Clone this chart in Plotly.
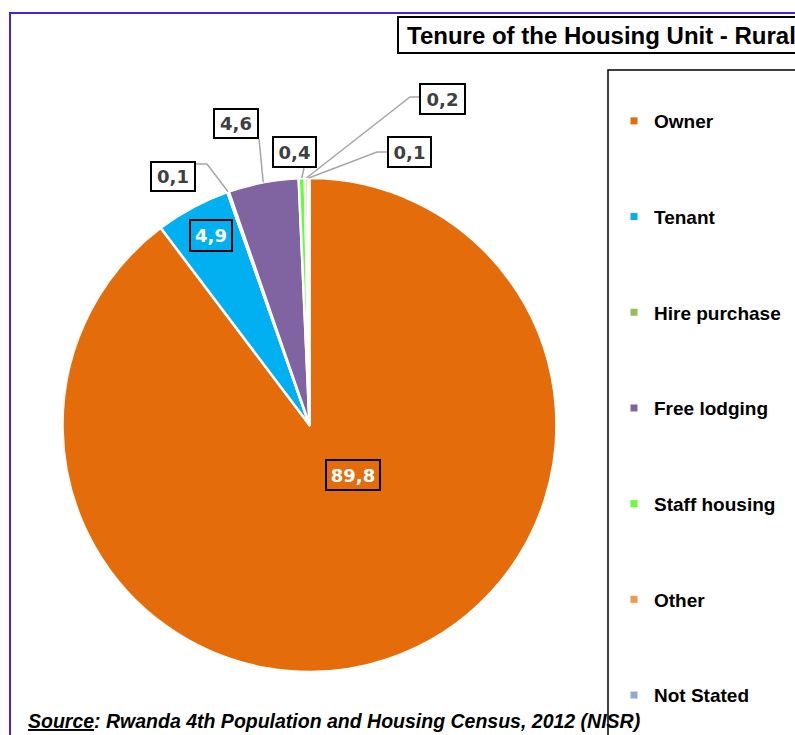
import math
import plotly.graph_objects as go

# ---------------- data ----------------
categories = ["Owner", "Tenant", "Hire purchase", "Free lodging",
              "Staff housing", "Other", "Not Stated"]
values = [89.8, 4.9, 0.1, 4.6, 0.4, 0.2, 0.1]
colors = ["#E46C0A", "#00B0F0", "#9BBB59", "#8064A2",
          "#66FF33", "#F79646", "#95A9D0"]
title_text = "Tenure of the Housing Unit - Rural"
source_text = "<i><u>Source</u>: Rwanda 4th Population and Housing Census, 2012 (NISR)</i>"

# ---------------- layout constants (pixels) ----------------
W, H = 795, 735
CX, CY, R = 309.5, 425.0, 247.0


def px(x):
    return x / W


def py(y):
    return 1 - y / H


# label boxes: centre, box size, text colour, leader waypoints (from box toward slice)
label_style = {
    "Owner":         dict(c=(353, 475), size=(56, 32), font="white", leader=None),
    "Tenant":        dict(c=(211, 235.5), size=(44, 33), font="white", leader=None),
    "Hire purchase": dict(c=(173, 176.5), size=(46, 31), font="#404040", leader=[(195, 164), (207, 164)]),
    "Free lodging":  dict(c=(235.5, 123.5), size=(46, 31), font="#404040", leader=[(259, 139)]),
    "Staff housing": dict(c=(294, 152), size=(45, 32), font="#404040", leader=[(304, 168)]),
    "Other":         dict(c=(442.5, 99), size=(47, 32), font="#404040", leader=[(419, 97), (410, 97)]),
    "Not Stated":    dict(c=(409.5, 152), size=(45, 32), font="#404040", leader=[(387, 152), (377, 152)]),
}

fig = go.Figure()

fig.add_trace(go.Pie(
    labels=categories, values=values, sort=False, direction="clockwise",
    rotation=0, textinfo="none", hoverinfo="label+value",
    marker=dict(colors=colors, line=dict(color="white", width=2.5)),
    domain=dict(x=[px(CX - R), px(CX + R)], y=[py(CY + R), py(CY - R)]),
    showlegend=False,
))

# legend entries (one per category)
for lab, col in zip(categories, colors):
    fig.add_trace(go.Scatter(
        x=[None], y=[None], mode="markers", name=lab, legendgroup=lab,
        marker=dict(symbol="square", size=7, color=col),
        showlegend=True,
    ))

# labels + leaders derived from slice angles
total = sum(values)
cum = 0.0
annotations = []
shapes = []
for lab, v in zip(categories, values):
    mid = (cum + v / 2) / total * 2 * math.pi
    cum += v
    st = label_style[lab]
    cx, cy = st["c"]
    bw, bh = st["size"]
    txt = f"{v:.1f}".replace(".", ",")
    annotations.append(dict(
        x=px(cx), y=py(cy), xref="paper", yref="paper", showarrow=False,
        text=f"<b>{txt}</b>", xanchor="center", yanchor="middle",
        font=dict(family="DejaVu Sans", size=18, color=st["font"]),
        bordercolor="black", borderwidth=2, borderpad=1,
        bgcolor="rgba(0,0,0,0)" if st["leader"] is None else "white",
        width=bw - 6, height=bh - 6,
    ))
    if st["leader"]:
        ex = CX + R * math.sin(mid)
        ey = CY - R * math.cos(mid)
        pts = list(st["leader"]) + [(ex, ey)]
        path = "M " + " L ".join(f"{px(x):.5f},{py(y):.5f}" for x, y in pts)
        shapes.append(dict(type="path", path=path, xref="paper", yref="paper",
                           line=dict(color="#A6A6A6", width=1.5)))

# title
annotations.append(dict(
    x=px(405), y=py(35), xref="paper", yref="paper", showarrow=False,
    text=f"<b>{title_text}</b>", xanchor="left", yanchor="middle",
    font=dict(family="Arial, Liberation Sans", size=24, color="black"),
))
# source
annotations.append(dict(
    x=px(26), y=py(721), xref="paper", yref="paper", showarrow=False,
    text=f"<b>{source_text}</b>", xanchor="left", yanchor="middle",
    font=dict(family="Arial, Liberation Sans", size=19.5, color="black"),
))

# frames
shapes.append(dict(type="rect", xref="paper", yref="paper",
                   x0=px(10), y0=py(13), x1=px(830), y1=py(770),
                   line=dict(color="#4422EE", width=2)))
shapes.append(dict(type="rect", xref="paper", yref="paper",
                   x0=px(398), y0=py(17), x1=px(830), y1=py(53),
                   line=dict(color="black", width=2)))
shapes.append(dict(type="rect", xref="paper", yref="paper",
                   x0=px(608), y0=py(70), x1=px(830), y1=py(770),
                   line=dict(color="black", width=1.5)))

fig.update_layout(
    width=W, height=H, margin=dict(l=0, r=0, t=0, b=0),
    paper_bgcolor="white", plot_bgcolor="white",
    xaxis=dict(visible=False), yaxis=dict(visible=False),
    showlegend=True,
    legend=dict(
        x=px(614), y=py(102), xanchor="left", yanchor="top",
        font=dict(family="Arial, Liberation Sans", size=19, color="black", weight="bold"),
        tracegroupgap=68, bgcolor="rgba(0,0,0,0)", borderwidth=0,
        itemclick=False, itemdoubleclick=False,
    ),
    annotations=annotations, shapes=shapes,
)

fig.write_html(
    "out.html",
    config={"displayModeBar": False},
    post_script="document.body.style.margin='0px';document.body.style.overflow='hidden';",
)
